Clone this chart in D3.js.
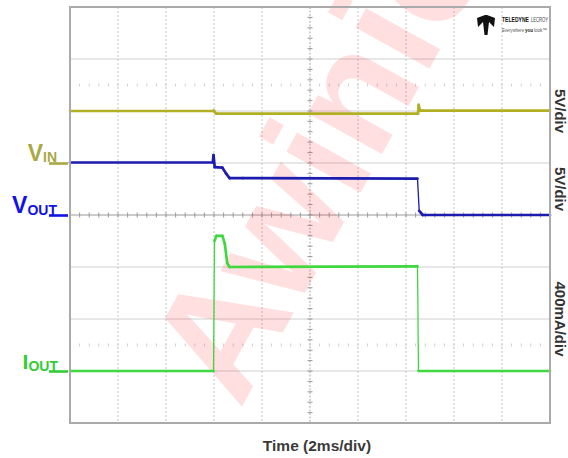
<!DOCTYPE html>
<html>
<head>
<meta charset="utf-8">
<script src="https://cdn.jsdelivr.net/npm/d3@7"></script>
<style>
  html, body { margin: 0; padding: 0; background: #fff; }
  svg { display: block; font-family: "Liberation Sans", Arial, sans-serif; }
</style>
</head>
<body>
<svg id="chart" width="568" height="458"></svg>
<script>
// ---------- data (time in ms, 2 ms/div, 10 divisions) ----------
const timeDomain = [0, 20];
const divDomain = [-4, 4];

// VIN channel: 5 V/div, ground marker at +1 div
const vinTime  = [0, 5.98, 6.0, 6.08, 14.5, 14.53, 14.58, 14.65, 20];
const vinValue = [5.0, 5.0, 5.03, 4.75, 4.75, 5.6, 5.05, 5.03, 5.03];

// VOUT channel: 5 V/div, ground marker at 0 div
const voutTime  = [0, 5.95, 5.98, 6.03, 6.35, 6.5, 6.65, 7.2, 14.48, 14.55, 14.7, 20];
const voutValue = [5.05, 5.05, 5.75, 4.6, 4.55, 4.0, 3.55, 3.55, 3.5, 0.4, 0.0, 0.0];

// IOUT channel: 400 mA/div, ground marker at -3 div
const ioutTime  = [0, 5.98, 6.02, 6.1, 6.35, 6.45, 6.55, 6.65, 14.48, 14.52, 20];
const ioutValue = [0, 0, 1000, 1040, 1040, 980, 830, 800, 805, 0, 0];

const channels = [
  { name: "VIN",  main: "V", sub: "IN",  offsetDiv: 1,  perDiv: 5,   time: vinTime,  value: vinValue,  trace: "#b1b024", label: "#a9a845" },
  { name: "VOUT", main: "V", sub: "OUT", offsetDiv: 0,  perDiv: 5,   time: voutTime, value: voutValue, trace: "#1c1cb0", label: "#1111e8" },
  { name: "IOUT", main: "I", sub: "OUT", offsetDiv: -3, perDiv: 400, time: ioutTime, value: ioutValue, trace: "#3fd83f", label: "#33cc33" }
];
const unitLabels = ["5V/div", "5V/div", "400mA/div"];
const unitCenterDiv = [2.0, 0.5, -2.0];
const xTitle = "Time (2ms/div)";
const watermark = "Awinic";

// ---------- layout ----------
const svg = d3.select("#chart");
const plot = { left: 70, top: 7, right: 550, bottom: 423 };
const x = d3.scaleLinear().domain(timeDomain).range([plot.left, plot.right]);
const y = d3.scaleLinear().domain(divDomain).range([plot.bottom, plot.top]);

// grid
const g = svg.append("g");
const xDivs = d3.range(timeDomain[0], timeDomain[1] + 0.001, 2);
const yDivs = d3.range(divDomain[0], divDomain[1] + 0.001, 1);

g.selectAll(".vg").data(xDivs.filter(d => d > 0 && d < 20 && d !== 10)).enter().append("line")
  .attr("x1", d => x(d)).attr("x2", d => x(d))
  .attr("y1", plot.top).attr("y2", plot.bottom)
  .attr("stroke", "#c4c4c4").attr("stroke-width", 1).attr("stroke-dasharray", "2,2");
g.selectAll(".hg").data(yDivs.filter(d => d > -4 && d < 4 && d !== 0)).enter().append("line")
  .attr("x1", plot.left).attr("x2", plot.right)
  .attr("y1", d => y(d)).attr("y2", d => y(d))
  .attr("stroke", "#cfcfcf").attr("stroke-width", 1.2);

// centre axes with minor ticks
g.append("line").attr("x1", plot.left).attr("x2", plot.right).attr("y1", y(0)).attr("y2", y(0))
  .attr("stroke", "#9a9a9a").attr("stroke-width", 1);
g.append("line").attr("x1", x(10)).attr("x2", x(10)).attr("y1", plot.top).attr("y2", plot.bottom)
  .attr("stroke", "#a8a8a8").attr("stroke-width", 1).attr("stroke-dasharray", "2,1.5");
const minorX = d3.range(0, 20.001, 0.4);
const minorY = d3.range(-4, 4.001, 0.2);
g.selectAll(".mx").data(minorX).enter().append("line")
  .attr("x1", d => x(d)).attr("x2", d => x(d)).attr("y1", y(0) - 2.5).attr("y2", y(0) + 2.5)
  .attr("stroke", "#999").attr("stroke-width", 1);
g.selectAll(".my").data(minorY).enter().append("line")
  .attr("x1", x(10) - 2.5).attr("x2", x(10) + 2.5).attr("y1", d => y(d)).attr("y2", d => y(d))
  .attr("stroke", "#999").attr("stroke-width", 1);
// dotted marker rows
[2.5, -2.5].forEach(dv => {
  g.selectAll(null).data(minorX.filter(d => d > 0 && d < 20)).enter().append("line")
    .attr("x1", d => x(d)).attr("x2", d => x(d)).attr("y1", y(dv) - 1.5).attr("y2", y(dv) + 1.5)
    .attr("stroke", "#cfcfcf").attr("stroke-width", 1);
});

// watermark (clipped to the picture)
svg.append("clipPath").attr("id", "wmclip").append("rect")
  .attr("x", 0).attr("y", 0).attr("width", 568).attr("height", 458);
svg.append("g").attr("clip-path", "url(#wmclip)").append("text")
  .attr("transform", "translate(240,410) rotate(-61)")
  .attr("font-size", 160).attr("font-weight", "bold")
  .attr("fill", "#ff2a2a").attr("fill-opacity", 0.15)
  .text(watermark);

// traces: steep edges drawn thin like a scope's fast transitions
channels.forEach(ch => {
  const pts = ch.time.map((t, i) => [x(t), y(ch.offsetDiv + ch.value[i] / ch.perDiv)]);
  const segs = d3.pairs(pts);
  svg.append("g").selectAll("line").data(segs).enter().append("line")
    .attr("x1", d => d[0][0]).attr("y1", d => d[0][1])
    .attr("x2", d => d[1][0]).attr("y2", d => d[1][1])
    .attr("stroke", ch.trace)
    .attr("stroke-linecap", "round")
    .attr("stroke-width", d => {
      const dx = Math.abs(d[1][0] - d[0][0]), dy = Math.abs(d[1][1] - d[0][1]);
      return dy > 20 && dy > 6 * dx ? 1.3 : 2.7;
    });
});

// border
svg.append("rect").attr("x", plot.left).attr("y", plot.top)
  .attr("width", plot.right - plot.left).attr("height", plot.bottom - plot.top)
  .attr("fill", "none").attr("stroke", "#aaaaaa").attr("stroke-width", 2);

// channel labels with ground markers
channels.forEach(ch => {
  const gy = y(ch.offsetDiv);
  const t = svg.append("text").attr("font-weight", "bold").attr("fill", ch.label)
    .attr("text-anchor", "end").attr("x", ch.name === "IOUT" ? 58 : 57).attr("y", gy - 2);
  t.append("tspan").attr("font-size", ch.main === "I" ? 21 : 23).text(ch.main);
  t.append("tspan").attr("font-size", 14).attr("dy", ch.name === "VIN" ? 1 : 2).text(ch.sub);
  svg.append("line").attr("x1", 49).attr("x2", 68).attr("y1", gy + 0.5).attr("y2", gy + 0.5)
    .attr("stroke", ch.label).attr("stroke-width", 2.6);
});

// right unit labels (rotated)
unitLabels.forEach((u, i) => {
  svg.append("text")
    .attr("transform", `translate(555,${y(unitCenterDiv[i])}) rotate(90)`)
    .attr("text-anchor", "middle")
    .attr("font-size", 15).attr("font-weight", "bold").attr("fill", "#333")
    .text(u);
});

// x title
svg.append("text").attr("x", 317).attr("y", 451).attr("text-anchor", "middle")
  .attr("font-size", 15.5).attr("font-weight", "bold").attr("fill", "#3a3a3a")
  .text(xTitle);

// Teledyne LeCroy logo
const logo = svg.append("g").attr("transform", "translate(477,15)");
logo.append("path")
  .attr("d", "M0,3 L8,0 L10,0 L18,3 L17,12 L12,7 L10.5,20 L7.5,20 L6,7 L1,12 Z")
  .attr("fill", "#111");
const logoTexts = [
  { t: "TELEDYNE", x: 25, y: 7, w: 27, fs: 7, fw: "bold", fill: "#111" },
  { t: "LECROY",   x: 54, y: 7, w: 17, fs: 7, fw: "normal", fill: "#444" },
  { t: "Everywhere", x: 25, y: 17, w: 22, fs: 5.5, fw: "normal", fill: "#555" },
  { t: "you",      x: 48, y: 17, w: 8, fs: 5.5, fw: "bold", fill: "#222" },
  { t: "look™",    x: 57, y: 17, w: 13, fs: 5.5, fw: "normal", fill: "#555" }
];
logo.selectAll("text").data(logoTexts).enter().append("text")
  .attr("x", d => d.x).attr("y", d => d.y)
  .attr("font-size", d => d.fs).attr("font-weight", d => d.fw).attr("fill", d => d.fill)
  .attr("textLength", d => d.w).attr("lengthAdjust", "spacingAndGlyphs")
  .text(d => d.t);
</script>
</body>
</html>
